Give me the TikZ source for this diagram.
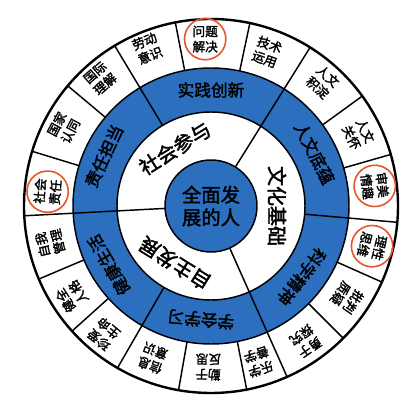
\documentclass[tikz,border=0pt]{standalone}
\usepackage{fontspec}
\newfontfamily\cjk[FakeBold=2]{Noto Sans CJK SC}
\definecolor{wheelblue}{RGB}{44,111,191}
\definecolor{hoopred}{RGB}{232,84,44}

\begin{document}
\begin{tikzpicture}[x=0.75pt, y=0.75pt,
    pointlbl/.style={font=\cjk\fontsize{9.5}{11.5}\selectfont, align=center, inner sep=0pt},
    hoop/.style={draw=hoopred, line width=1.2pt, circle, minimum size=31pt},
    bandlbl/.style={font=\cjk\fontsize{12.5}{14}\selectfont, inner sep=0pt},
    basislbl/.style={font=\cjk\fontsize{15}{17}\selectfont, inner sep=0pt}]
    \useasboundingbox (-211,-193) rectangle (196,206);
    % rings
    \fill [wheelblue] (0,0) circle [radius=138];
    \fill [white] (0,0) circle [radius=94];
    \draw [line width=1.8pt] (0,0) circle [radius=187];
    \draw [line width=1.1pt] (0,0) circle [radius=138];
    \draw [line width=1.1pt] (0,0) circle [radius=94];
    \foreach \a in {16,36,58,78,101,121,140,163,183,203,222,240,260,281,294,315,336,355}
        \draw [line width=1.1pt] (\a:138) -- (\a:187);
    \foreach \a in {58,121,183,240,294,355}
        \draw [line width=1.1pt] (\a:94) -- (\a:138);
    \foreach \a in {58,183,294}
        \draw [line width=1.1pt] (\a:46) -- (\a:94);
    \node [circle, draw, line width=1.1pt, fill=wheelblue, minimum size=69pt, align=center,
        font=\cjk\fontsize{14.5}{17}\selectfont] (core) at (0,0) {全面发\\展的人};

    % three bases
    \node [basislbl, rotate=32] (shehui) at (122:68) {社会参与};
    \node [basislbl, rotate=-90] (wenhua) at (0:66) {文化基础};
    \node [basislbl, rotate=148] (zizhu) at (238:68) {自主发展};

    % six literacies
    \node [bandlbl] (shijian) at (90:116) {实践创新};
    \node [bandlbl, rotate=-63] (renwen) at (27:116) {人文底蕴};
    \node [bandlbl, rotate=232] (kexue) at (322:115) {科学精神};
    \node [bandlbl, rotate=175] (xuehui) at (265:114) {学会学习};
    \node [bandlbl, rotate=120] (jiankang) at (210:118) {健康生活};
    \node [bandlbl, rotate=65] (zeren) at (155:118) {责任担当};

    % eighteen points
    \node [pointlbl, rotate=-20] (jishu) at (70:164) {技术\\运用};
    \node [pointlbl, rotate=-42] (jidian) at (48:167) {人文\\积淀};
    \node [pointlbl, rotate=-64] (qinghuai) at (26:164) {人文\\关怀};
    \node [pointlbl, hoop, rotate=-83] (shenmei) at (7:165) {审美\\情趣};
    \node [pointlbl, hoop, rotate=-104] (lixing) at (346:166) {理性\\思维};
    \node [pointlbl, rotate=-124] (pipan) at (326:164) {批判\\质疑};
    \node [pointlbl, rotate=-145] (tanjiu) at (305:165) {勇于\\探究};
    \node [pointlbl, rotate=197] (lexue) at (287:163) {乐学\\善学};
    \node [pointlbl, rotate=179] (fansi) at (269:161) {勤于\\反思};
    \node [pointlbl, rotate=159] (xinxi) at (249:163) {信息\\意识};
    \node [pointlbl, rotate=140] (shengming) at (230:167) {珍爱\\生命};
    \node [pointlbl, rotate=123] (renge) at (213:166) {健全\\人格};
    \node [pointlbl, rotate=103] (guanli) at (193:165) {自我\\管理};
    \node [pointlbl, hoop, rotate=85] (zerenxin) at (175:164) {社会\\责任};
    \node [pointlbl, rotate=62] (rentong) at (152:167) {国家\\认同};
    \node [pointlbl, rotate=41] (lijie) at (131:169) {国际\\理解};
    \node [pointlbl, rotate=22] (laodong) at (112:170) {劳动\\意识};
    \node [pointlbl, hoop] (wenti) at (92:167) {问题\\解决};
\end{tikzpicture}
\end{document}
